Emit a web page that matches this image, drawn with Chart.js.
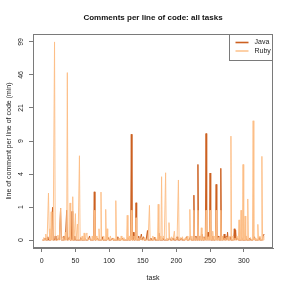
<!DOCTYPE html>
<html><head><meta charset="utf-8">
<script src="https://cdn.jsdelivr.net/npm/chart.js@4"></script>
<style>html,body{margin:0;padding:0;background:#fff;}#wrap{width:291px;height:291px;}</style>
</head><body><div id="wrap"><canvas id="c" width="291" height="291"></canvas></div>
<script>
const chartTitle = 'Comments per line of code: all tasks';
const xAxisLabel = 'task';
const yAxisLabel = 'line of comment per line of code (min)';
const seriesNames = ['Java', 'Ruby'];
const xTickValues = [0, 50, 100, 150, 200, 250, 300];
const yTickLabels = ['0', '1', '4', '9', '21', '46', '99'];

const javaValues = [
  0,0,0,0,0.05,0,0,0,0.08,0, 0,0,0,0,0,1.14,0,0,0,0.1, 0,0,0,0,0.05,0,0,1.1,0,0,
  0,0,0.1,0,0,0,1.0,0,0,0, 0.08,0,0,0,0.95,0,0,0,0.1,0, 0,0,0,0,0,0,0,0.06,0,0,
  0,0,0,0.05,0,0,0,0,0,0, 0.1,0,0,0,0,0,0,2.07,0,0, 0,0,0.05,0,0,0,0,0,0,0.08,
  0,0,0,0,0,0,0,0,0.06,0, 0,0,0,0,0.05,0,0,0,0,0, 0,0,0.08,0,0,0,0,0,0,0.05,
  0,0,0,0,0,0,0,0.06,0,0, 0,0,10.7,0,0,0.2,0,0,0,1.38, 0,0,0,0.1,0,0,0,0.15,0,0,
  0.08,0,0,0,0,0,0.25,0,0,0, 0,0.05,0,0,0,0,0.06,0,0,0, 0,0,0,0.18,0,0,0,0,0,0.05,
  0,0,0,0,0,0,0,0,0,0.06, 0,0,0,0,0.05,0,0,0,0,0, 0.08,0,0,0,0,0,0.05,0,0,0,
  0,0,0,0,0.08,0,0,0,0,0, 0.1,0,0,0,0,1.84,0,0,0.1,0, 0,4.8,0,0,0.1,0,0,0.15,0,0,
  0.08,0,0,10.9,0,0,0.2,0,0,3.75, 0,0,0,0.1,0,0,0,0,2.65,0, 0,0.1,0,0,0,4.3,0,0,0.1,0,
  0.15,0,0,0.1,0,0.2,0,0,0,0.08, 0,0,0,0,0,0.3,0,0.26,0,0, 0.05,0,0,0,0,0,0.06,0,0,0,
  0,0,0.1,0,0,0,0,0,0.05,0, 0,0,0,0,0,0.08,0,0,0,0, 0,0,0.06,0,0,0,0,0,0.12,0.15
];

const rubyValues = [
  0,0,0.06,0,0,0.15,0,0,0,1.98, 0.3,0,0,0.93,0,0,0,0,99,0, 0,0,0,0.12,0,0,0,1.1,0,0,
  0.08,0,0,0,0.2,0,0,48,0,0, 0,1.37,0,0,0,1.74,0,0,0,0.85, 0,0,0.45,0,0,6.1,0,0,0,0.1,
  0,0,0.18,0,0,0.15,0.18,0,0,0, 0.05,0,0,0,0.1,0,0,1.0,0,0, 0.1,0,0,0,0.3,0,0,2.05,0,0,
  0,0.1,0,0,1.04,0,0.3,0,0,0, 0,0.1,0,0,0,0.05,0,0,0,1.5, 0,0,0,0,0.05,0,0,0.1,0,0,
  0,0.06,0,0,0,0,0.78,0,0,0.1, 0,0,1.0,0,0,0,0.1,0,0,0.68, 0,0,0,0.05,0,0,0,0.08,0,0,
  0,0.06,0,0,0,0,0,0,0,1.24, 0,0,0,0,0.1,0,0,0,0.07,0, 0,0,1.3,0,0,0.1,0,3.36,0,0,
  0.1,0,0,3.78,0,0.05,0,0,0.5,0, 0,0,0.08,0,0,0,0.23,0,0,0.05, 0,0,3.04,0,0,0.06,0,0,0.08,0,
  0,0,0.05,0,0,0.1,0,0,0,1.04, 0,0,0.1,0,0,1.0,0,0,0.06,0, 0,1.0,0,0,0.1,0,0.33,0,0,0.06,
  0,0,0,1.0,0,0,0.08,0,0,1.0, 0,0.1,0,0.23,0,0,0.1,0,1.0,0, 0,0.06,0,0,0,1.0,0,0.1,0,0,
  0,0.05,0,0,0.08,0,0,0.1,0,0, 10.2,0,0,0.1,0,0,0.05,0,0,0.1, 0,0,0.6,0,0,1.0,0,0,4.8,0,
  0,0.75,0,0.1,0,1.6,0,0,0,0.06, 0,0,0,15,0,0,0.05,0,0,0, 0.44,0,0,0.1,0,0,6.0,0,0,0.1
];

const tasks = rubyValues.map((_, i) => i + 1);
const seriesColors = ['#cc6020', 'rgba(253,190,133,0.9)'];
const FONT = "'Liberation Sans', Arial, sans-serif";
const AXIS = '#7a7a7a';
const TXT = '#222';

// y is drawn on a log(1 + value) scale
const toScale = v => Math.log10(v + 1);
const yTop = toScale(Number(yTickLabels[yTickLabels.length - 1]));
const yTickPos = yTickLabels.map((_, i) => i * yTop / (yTickLabels.length - 1));

function makeSet(idx, vals, order) {
  return {
    label: seriesNames[idx],
    data: tasks.map((t, i) => ({x: t, y: toScale(vals[i])})),
    borderColor: seriesColors[idx],
    backgroundColor: seriesColors[idx],
    borderWidth: 1,
    pointRadius: 0,
    tension: 0,
    fill: false,
    order: order
  };
}

const boxPlugin = {
  id: 'plotBox',
  afterDraw(chart) {
    const ctx = chart.ctx, a = chart.chartArea;
    ctx.save();
    ctx.strokeStyle = AXIS;
    ctx.lineWidth = 1;
    const l = Math.round(a.left) + 0.5, r = Math.round(a.right) - 0.5;
    const t = Math.round(a.top) + 0.5, b = Math.round(a.bottom) - 0.5;
    ctx.strokeRect(l, t, r - l, b - t);
    // legend box (top-right inside the plot)
    const lw = 44, lh = 26;
    const lx = Math.round(a.right - lw) + 0.5;
    ctx.fillStyle = '#fff';
    ctx.fillRect(lx, t, r - lx, lh);
    ctx.strokeRect(lx, t, r - lx, lh);
    chart.data.datasets.forEach((ds, i) => {
      const y = a.top + 8.5 + i * 8.5;
      ctx.strokeStyle = ds.borderColor;
      ctx.lineWidth = 1.6;
      ctx.beginPath();
      ctx.moveTo(lx + 6, y);
      ctx.lineTo(lx + 19, y);
      ctx.stroke();
      ctx.fillStyle = TXT;
      ctx.font = '7px ' + FONT;
      ctx.textBaseline = 'middle';
      ctx.textAlign = 'left';
      ctx.fillText(ds.label, lx + 25, y);
    });
    ctx.restore();
  }
};

new Chart(document.getElementById('c'), {
  type: 'line',
  data: {
    datasets: [makeSet(0, javaValues, 1), makeSet(1, rubyValues, 0)]
  },
  options: {
    responsive: false,
    animation: false,
    devicePixelRatio: 1,
    layout: {padding: {left: 0, right: 18, top: 0, bottom: 0}},
    plugins: {
      legend: {display: false},
      tooltip: {enabled: false},
      title: {
        display: true, text: chartTitle, fullSize: false,
        color: '#111',
        font: {family: FONT, size: 8, weight: 'bold'},
        padding: {top: 12.5, bottom: 11.9}
      }
    },
    scales: {
      x: {
        type: 'linear', min: -13, max: 343.5,
        afterBuildTicks: s => { s.ticks = xTickValues.map(v => ({value: v})); },
        afterFit: s => { s.height = 43; },
        grid: {display: true, drawOnChartArea: false, drawTicks: true, tickLength: 4, color: AXIS},
        border: {display: true, color: AXIS, width: 1},
        ticks: {font: {family: FONT, size: 7}, color: TXT, padding: 5, maxRotation: 0, autoSkip: false,
                callback: v => String(v)},
        title: {display: true, text: xAxisLabel, color: TXT, font: {family: FONT, size: 7},
                padding: {top: 0, bottom: 9}}
      },
      y: {
        type: 'linear', min: -0.08, max: 2.08,
        afterBuildTicks: s => { s.ticks = yTickPos.map(v => ({value: v})); },
        afterFit: s => { s.width = 33; },
        grid: {display: true, drawOnChartArea: false, drawTicks: true, tickLength: 4, color: AXIS},
        border: {display: true, color: AXIS, width: 1},
        ticks: {font: {family: FONT, size: 7}, color: TXT, padding: 4.5, autoSkip: false,
                minRotation: 90, maxRotation: 90, crossAlign: 'center',
                callback: (v, i) => yTickLabels[i]},
        title: {display: true, text: yAxisLabel, color: TXT, font: {family: FONT, size: 7},
                padding: {top: 5, bottom: 0}}
      }
    }
  },
  plugins: [boxPlugin]
});
</script>
</body></html>
